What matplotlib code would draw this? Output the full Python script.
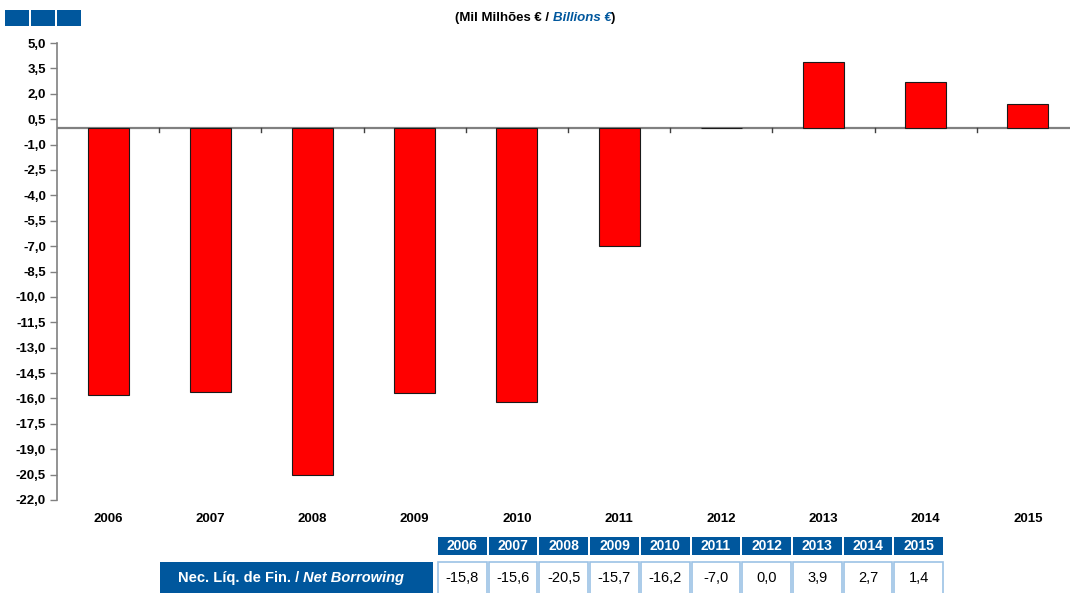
import numpy as np
import matplotlib
matplotlib.use("Agg")
import matplotlib.pyplot as plt
from matplotlib.patches import Rectangle
import matplotlib.transforms as mtransforms

# data
years = ["2006", "2007", "2008", "2009", "2010", "2011", "2012", "2013", "2014", "2015"]
net_borrowing = [-15.8, -15.6, -20.5, -15.7, -16.2, -7.0, 0.0, 3.9, 2.7, 1.4]
y_ticks = [5.0, 3.5, 2.0, 0.5, -1.0, -2.5, -4.0, -5.5, -7.0, -8.5, -10.0, -11.5,
           -13.0, -14.5, -16.0, -17.5, -19.0, -20.5, -22.0]

BLUE = "#00579D"
LIGHT = "#9CC2E5"
W, H = 1070, 593

plt.rcParams['font.family'] = ['Liberation Sans', 'DejaVu Sans']

fig = plt.figure(figsize=(W / 100, H / 100), dpi=100)
renderer = fig.canvas.get_renderer()


def chain_text(x_px, y_px, parts, **kw):
    # draw pieces of text one after the other, left to right
    for s, extra in parts:
        t = fig.text(x_px / W, 1 - y_px / H, s, ha="left", va="center", **kw, **extra)
        bb = t.get_window_extent(renderer=renderer)
        x_px += bb.width


ax = fig.add_axes([57 / W, 93 / H, 1022 / W, 457 / H])

x = np.arange(len(years))
ax.bar(x, net_borrowing, width=0.4, color="#FF0000", edgecolor="#1a1a1a", linewidth=0.8, zorder=2)

ax.set_xlim(-0.5, len(years) - 0.5)
ax.set_ylim(-22, 5)
ax.set_yticks(y_ticks)
ax.set_yticklabels([("%.1f" % v).replace(".", ",") for v in y_ticks], fontsize=9.5, fontweight="bold")
ax.tick_params(axis="y", direction="out", length=5, width=1, color="#808080", pad=3)

# x axis: ticks only between categories, drawn on the zero line
ax.set_xticks([])
for s in ["top", "right", "bottom"]:
    ax.spines[s].set_visible(False)
ax.spines["left"].set_color("#808080")
ax.spines["left"].set_linewidth(1.2)
ax.axhline(0, color="#808080", linewidth=1.6, zorder=1.5)
for b in np.arange(0.5, len(years) - 0.5, 1.0):
    ax.plot([b, b], [0, -0.25], color="#404040", linewidth=1, zorder=3)

# year labels under the plot
trans = mtransforms.blended_transform_factory(ax.transData, fig.transFigure)
for i, yr in enumerate(years):
    ax.text(i, 1 - 519 / H, yr, transform=trans, ha="center", va="center",
            fontsize=9.5, fontweight="bold")

# small blue squares top-left
for i in range(3):
    fig.patches.append(Rectangle(((5 + i * 26) / W, 1 - 26 / H), 24 / W, 16 / H,
                                 transform=fig.transFigure, facecolor=BLUE, edgecolor="none"))

# subtitle
chain_text(455, 18, [("(Mil Milhões € / ", {}),
                     ("Billions €", {"style": "italic", "color": BLUE}),
                     (")", {})], fontsize=9.5, fontweight="bold")

# table below
cw = 50.7
x0 = 438
for i, yr in enumerate(years):
    cx = x0 + i * cw
    fig.patches.append(Rectangle((cx / W, 1 - 555 / H), (cw - 2) / W, 18 / H,
                                 transform=fig.transFigure, facecolor=BLUE, edgecolor="none"))
    fig.text((cx + (cw - 2) / 2) / W, 1 - 546 / H, yr, color="white", fontsize=10,
             fontweight="bold", ha="center", va="center")
    fig.patches.append(Rectangle((cx / W, 1 - 600 / H), (cw - 2) / W, 38 / H,
                                 transform=fig.transFigure, facecolor="white",
                                 edgecolor=LIGHT, linewidth=1.2))
    fig.text((cx + (cw - 2) / 2) / W, 1 - 578 / H, ("%.1f" % net_borrowing[i]).replace(".", ","),
             color="black", fontsize=10.5, ha="center", va="center")

fig.patches.append(Rectangle((160 / W, 1 - 600 / H), 273 / W, 38 / H,
                             transform=fig.transFigure, facecolor=BLUE, edgecolor="none"))
chain_text(178, 578, [("Nec. Líq. de Fin. / ", {}),
                      ("Net Borrowing", {"style": "italic"})],
           color="white", fontsize=10.5, fontweight="bold")

fig.savefig("out.png", dpi=100)
